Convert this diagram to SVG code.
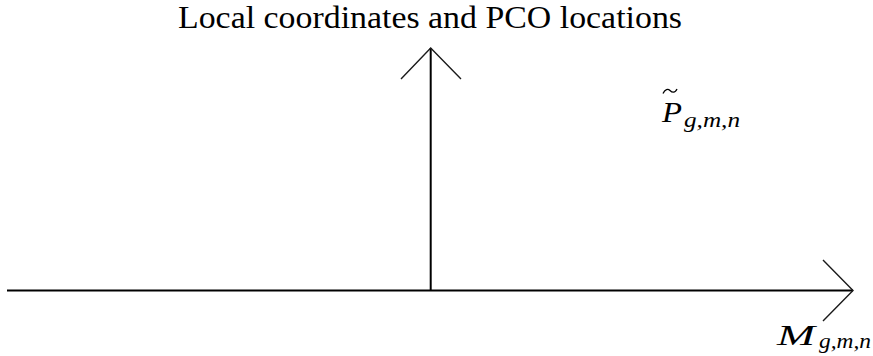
<svg xmlns="http://www.w3.org/2000/svg" width="873" height="356" viewBox="0 0 873 356">
<style>
.ax{stroke:#000;stroke-width:2;fill:none}
.hd{stroke:#1a1a1a;stroke-width:1.4;fill:none}
.t{font-family:"Liberation Serif",serif;fill:#000}
.m{font-family:"Liberation Serif",serif;font-style:italic;fill:#000}
.acc{stroke:#000;stroke-width:1.3;fill:none}
</style>
<rect width="873" height="356" fill="#fff"/>
<text class="t" x="178" y="28" font-size="31" textLength="504" lengthAdjust="spacingAndGlyphs">Local coordinates and PCO locations</text>
<g id="connectors">
<line class="ax" x1="7" y1="290.5" x2="853" y2="290.5"/>
<line class="ax" x1="430.7" y1="290.5" x2="430.7" y2="48"/>
<polyline class="hd" points="823,260 853,290.5 823,321"/>
<polyline class="hd" points="401,79 430.7,48 461,79"/>
</g>
<g id="label-P">
<path class="acc" d="M663,93.5 C665,89 668,88.5 670,90.5 C672,92.5 675,93.5 677,89"/>
<text class="m" x="662" y="122" font-size="29" textLength="20" lengthAdjust="spacingAndGlyphs">P</text>
<text class="m" x="684" y="127" font-size="20" textLength="56" lengthAdjust="spacingAndGlyphs">g,m,n</text>
</g>
<g id="label-M">
<text class="m" x="777" y="345" font-size="29" textLength="38" lengthAdjust="spacingAndGlyphs">M</text>
<text class="m" x="819" y="348" font-size="20" textLength="52" lengthAdjust="spacingAndGlyphs">g,m,n</text>
</g>
</svg>
